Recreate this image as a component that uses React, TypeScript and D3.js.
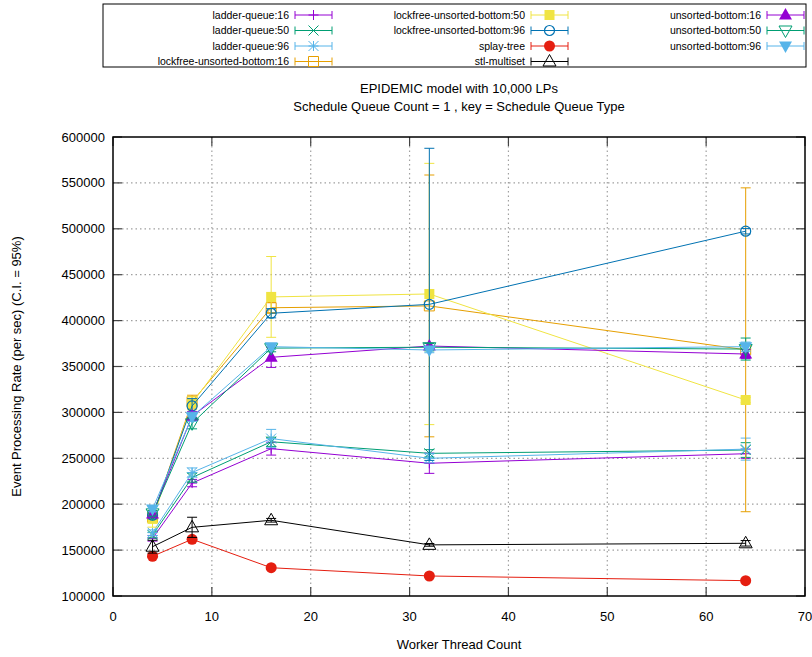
import React, { useEffect, useRef } from 'react';
import * as d3 from 'd3';

const threadCounts = [4, 8, 16, 32, 64];
const xTicks = [0, 10, 20, 30, 40, 50, 60, 70];
const yTicks = [100000, 150000, 200000, 250000, 300000, 350000, 400000, 450000, 500000, 550000, 600000];

const chartTitle = 'EPIDEMIC model with 10,000 LPs';
const chartSubtitle = 'Schedule Queue Count = 1 , key = Schedule Queue Type';
const xLabel = 'Worker Thread Count';
const yLabel = 'Event Processing Rate (per sec) (C.I. = 95%)';

// means and half-widths of the 95% interval
const ladderQueue16 = [162800, 223000, 260500, 244600, 255000];
const ladderQueue16Err = [3000, 4000, 7000, 11000, 5000];
const ladderQueue50 = [166400, 229000, 268000, 255400, 259000];
const ladderQueue50Err = [3000, 5000, 5000, 4000, 8000];
const ladderQueue96 = [169000, 234500, 271500, 250000, 260000];
const ladderQueue96Err = [3000, 5000, 10000, 5000, 12000];
const lockfree16 = [186000, 311700, 414000, 416000, 368200];
const lockfree16Err = [6000, 7000, 6000, 142600, 176400];
const lockfree50 = [184000, 310000, 425800, 429000, 313500];
const lockfree50Err = [9000, 7000, 44000, 142300, 3000];
const lockfree96 = [188000, 307000, 408000, 417700, 497400];
const lockfree96Err = [4000, 8000, 5000, 170000, 3000];
const splayTree = [143300, 161800, 130800, 121800, 116700];
const splayTreeErr = [1500, 1500, 1000, 1000, 1000];
const stlMultiset = [153700, 174800, 182500, 155700, 157400];
const stlMultisetErr = [7000, 11000, 2000, 1500, 3000];
const unsorted16 = [189300, 296000, 360000, 372300, 363600];
const unsorted16Err = [3000, 5000, 11000, 3000, 5000];
const unsorted50 = [190000, 288100, 370000, 371000, 369000];
const unsorted50Err = [3000, 6000, 4000, 4000, 12000];
const unsorted96 = [194800, 295300, 371600, 368000, 371600];
const unsorted96Err = [3000, 5000, 3000, 3000, 5000];

const seriesList = [
    { name: 'ladder-queue:16', color: '#9400d3', marker: 'plus', values: ladderQueue16, errors: ladderQueue16Err },
    { name: 'ladder-queue:50', color: '#009e73', marker: 'cross', values: ladderQueue50, errors: ladderQueue50Err },
    { name: 'ladder-queue:96', color: '#56b4e9', marker: 'star', values: ladderQueue96, errors: ladderQueue96Err },
    { name: 'lockfree-unsorted-bottom:16', color: '#e69f00', marker: 'square', values: lockfree16, errors: lockfree16Err },
    { name: 'lockfree-unsorted-bottom:50', color: '#f0e442', marker: 'squareFilled', values: lockfree50, errors: lockfree50Err },
    { name: 'lockfree-unsorted-bottom:96', color: '#0072b2', marker: 'circle', values: lockfree96, errors: lockfree96Err },
    { name: 'splay-tree', color: '#e51e10', marker: 'circleFilled', values: splayTree, errors: splayTreeErr },
    { name: 'stl-multiset', color: '#000000', marker: 'triangle', values: stlMultiset, errors: stlMultisetErr },
    { name: 'unsorted-bottom:16', color: '#9400d3', marker: 'triangleFilled', values: unsorted16, errors: unsorted16Err },
    { name: 'unsorted-bottom:50', color: '#009e73', marker: 'triangleDown', values: unsorted50, errors: unsorted50Err },
    { name: 'unsorted-bottom:96', color: '#56b4e9', marker: 'triangleDownFilled', values: unsorted96, errors: unsorted96Err },
];

const FONT = '"Liberation Sans", Arial, sans-serif';

const drawMarker = (g, type: string, cx: number, cy: number, color: string) => {
    const s = 5;
    const strokeOnly = (d: string) => g.append('path').attr('d', d)
        .attr('fill', 'none').attr('stroke', color).attr('stroke-width', 1);
    const tri = (dir: number) => {
        const h = 7 * dir;
        return `M${cx},${cy - h}L${cx - 6.5},${cy + 4.5 * dir}L${cx + 6.5},${cy + 4.5 * dir}Z`;
    };
    switch (type) {
        case 'plus':
            strokeOnly(`M${cx - s},${cy}H${cx + s}M${cx},${cy - s}V${cy + s}`);
            break;
        case 'cross':
            strokeOnly(`M${cx - s},${cy - s}L${cx + s},${cy + s}M${cx - s},${cy + s}L${cx + s},${cy - s}`);
            break;
        case 'star':
            strokeOnly(`M${cx - s},${cy}H${cx + s}M${cx},${cy - s}V${cy + s}M${cx - s},${cy - s}L${cx + s},${cy + s}M${cx - s},${cy + s}L${cx + s},${cy - s}`);
            break;
        case 'square':
            strokeOnly(`M${cx - s},${cy - s}h${2 * s}v${2 * s}h${-2 * s}Z`);
            break;
        case 'squareFilled':
            g.append('rect').attr('x', cx - s).attr('y', cy - s).attr('width', 2 * s).attr('height', 2 * s)
                .attr('fill', color);
            break;
        case 'circle':
            g.append('circle').attr('cx', cx).attr('cy', cy).attr('r', s)
                .attr('fill', 'none').attr('stroke', color).attr('stroke-width', 1.2);
            break;
        case 'circleFilled':
            g.append('circle').attr('cx', cx).attr('cy', cy).attr('r', s + 0.5).attr('fill', color);
            break;
        case 'triangle':
            strokeOnly(tri(1));
            break;
        case 'triangleFilled':
            g.append('path').attr('d', tri(1)).attr('fill', color);
            break;
        case 'triangleDown':
            strokeOnly(tri(-1));
            break;
        case 'triangleDownFilled':
            g.append('path').attr('d', tri(-1)).attr('fill', color);
            break;
    }
};

export default function App() {
    const svgRef = useRef(null);
    const width = 812;
    const height = 657;

    useEffect(() => {
        const svg = d3.select(svgRef.current);
        svg.selectAll('*').remove();

        const left = 113, right = 805, top = 137, bottom = 596;

        const x = d3.scaleLinear().domain([0, 70]).range([left, right]);
        const y = d3.scaleLinear().domain([100000, 600000]).range([bottom, top]);

        // grid
        const grid = svg.append('g');
        grid.selectAll('line.gy')
            .data(yTicks.slice(1, -1))
            .enter().append('line')
            .attr('x1', left).attr('x2', right)
            .attr('y1', d => y(d)).attr('y2', d => y(d))
            .attr('stroke', '#a0a0a0').attr('stroke-width', 1.2)
            .attr('stroke-dasharray', '1.5,3');
        grid.selectAll('line.gx')
            .data(xTicks.slice(1, -1))
            .enter().append('line')
            .attr('y1', top).attr('y2', bottom)
            .attr('x1', d => x(d)).attr('x2', d => x(d))
            .attr('stroke', '#a0a0a0').attr('stroke-width', 1.2)
            .attr('stroke-dasharray', '1.5,3');

        // ticks (inward, mirrored)
        const ticks = svg.append('g').attr('stroke', '#444').attr('stroke-width', 1.2);
        yTicks.forEach(t => {
            ticks.append('line').attr('x1', left).attr('x2', left + 9).attr('y1', y(t)).attr('y2', y(t));
            ticks.append('line').attr('x1', right).attr('x2', right - 9).attr('y1', y(t)).attr('y2', y(t));
        });
        xTicks.forEach(t => {
            ticks.append('line').attr('y1', bottom).attr('y2', bottom - 9).attr('x1', x(t)).attr('x2', x(t));
            ticks.append('line').attr('y1', top).attr('y2', top + 9).attr('x1', x(t)).attr('x2', x(t));
        });

        // tick labels
        svg.append('g').selectAll('text')
            .data(yTicks)
            .enter().append('text')
            .attr('x', 105).attr('y', d => y(d)).attr('dy', '0.35em')
            .attr('text-anchor', 'end')
            .style('font-family', FONT).style('font-size', '13px')
            .text(d => String(d));
        svg.append('g').selectAll('text')
            .data(xTicks)
            .enter().append('text')
            .attr('x', d => x(d)).attr('y', 621)
            .attr('text-anchor', 'middle')
            .style('font-family', FONT).style('font-size', '13px')
            .text(d => String(d));

        // series
        const plot = svg.append('g');
        seriesList.forEach(s => {
            const pts = threadCounts.map((t, i) => ({ t, v: s.values[i], e: s.errors[i] }));
            const line = d3.line<any>().x(d => x(d.t)).y(d => y(d.v));
            const g = plot.append('g');
            g.append('path').attr('d', line(pts))
                .attr('fill', 'none').attr('stroke', s.color).attr('stroke-width', 1);
            pts.forEach(p => {
                const cx = x(p.t);
                const y0 = y(p.v - p.e), y1 = y(p.v + p.e);
                g.append('path')
                    .attr('d', `M${cx},${y0}V${y1}M${cx - 5},${y0}H${cx + 5}M${cx - 5},${y1}H${cx + 5}`)
                    .attr('fill', 'none').attr('stroke', s.color).attr('stroke-width', 1);
                drawMarker(g, s.marker, cx, y(p.v), s.color);
            });
        });

        // border
        svg.append('rect')
            .attr('x', left).attr('y', top)
            .attr('width', right - left).attr('height', bottom - top)
            .attr('fill', 'none').attr('stroke', '#000').attr('stroke-width', 1.5);

        // titles
        svg.append('text')
            .attr('x', (left + right) / 2).attr('y', 92.5)
            .attr('text-anchor', 'middle')
            .style('font-family', FONT).style('font-size', '13px')
            .text(chartTitle);
        svg.append('text')
            .attr('x', (left + right) / 2).attr('y', 111)
            .attr('text-anchor', 'middle')
            .style('font-family', FONT).style('font-size', '13px')
            .text(chartSubtitle);
        svg.append('text')
            .attr('x', (left + right) / 2).attr('y', 649)
            .attr('text-anchor', 'middle')
            .style('font-family', FONT).style('font-size', '13px')
            .text(xLabel);
        svg.append('text')
            .attr('transform', `translate(21, ${(top + bottom) / 2}) rotate(-90)`)
            .attr('text-anchor', 'middle')
            .style('font-family', FONT).style('font-size', '13px')
            .text(yLabel);

        // legend
        const legend = svg.append('g');
        legend.append('rect')
            .attr('x', 103).attr('y', 4).attr('width', 703).attr('height', 63)
            .attr('fill', 'none').attr('stroke', '#000').attr('stroke-width', 1);
        const colEnds = [332, 568, 804];
        const rowY = [15, 30.5, 46, 61.5];
        seriesList.forEach((s, i) => {
            const col = Math.floor(i / 4);
            const row = i % 4;
            const x1 = colEnds[col];
            const x0 = x1 - 37;
            const cy = rowY[row];
            legend.append('text')
                .attr('x', x0 - 6).attr('y', cy).attr('dy', '0.35em')
                .attr('text-anchor', 'end')
                .style('font-family', FONT).style('font-size', '10.5px')
                .text(s.name);
            const lg = legend.append('g');
            lg.append('path')
                .attr('d', `M${x0},${cy}H${x1}M${x0},${cy - 4}V${cy + 4}M${x1},${cy - 4}V${cy + 4}`)
                .attr('fill', 'none').attr('stroke', s.color).attr('stroke-width', 1);
            drawMarker(lg, s.marker, (x0 + x1) / 2, cy, s.color);
        });
    }, []);

    return (
        <svg
            ref={svgRef}
            width={width}
            height={height}
            style={{ position: 'absolute', left: 0, top: 0, background: '#fff' }}
        />
    );
}
